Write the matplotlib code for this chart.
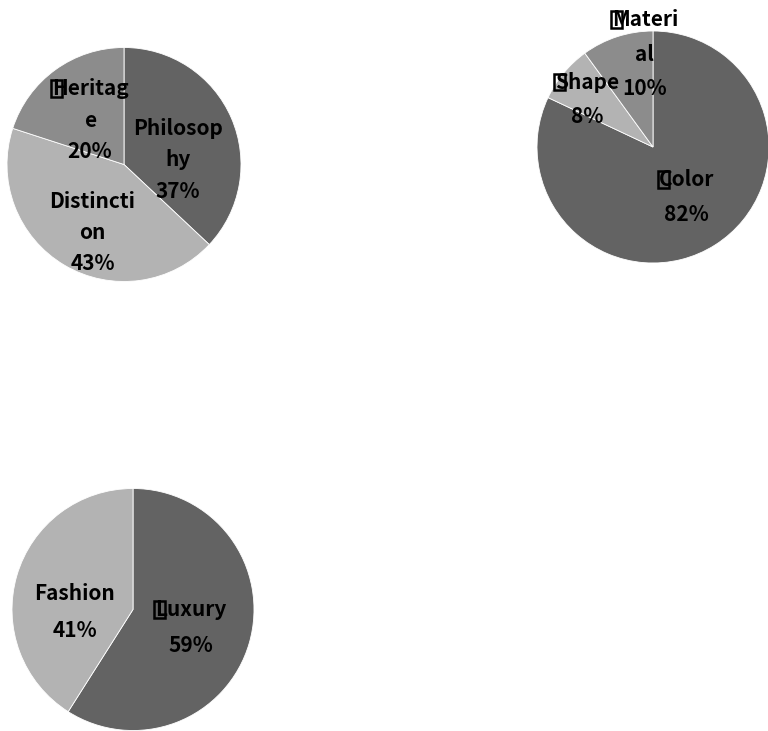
import matplotlib
matplotlib.use("Agg")
import matplotlib.pyplot as plt
from matplotlib.patches import Rectangle

plt.rcParams['font.family'] = ['Noto Sans CJK JP', 'DejaVu Sans']

# ---- data ----
pie1_labels = ["Philosop\nhy", "Distincti\non", "Heritag\ne"]
pie1_values = [37, 43, 20]
pie2_labels = ["Color", "Shape", "Materi\nal"]
pie2_values = [82, 8, 10]
pie3_labels = ["Luxury", "Fashion"]
pie3_values = [59, 41]

DARK, LIGHT, MID = "#636363", "#b3b3b3", "#8c8c8c"

W, H = 768, 731
fig = plt.figure(figsize=(W / 100, H / 100), dpi=100)
fig.patch.set_facecolor("white")

# per pie: (center x px, center y px, radius px, colors, label positions, tofu flags, linespacing)
specs = [
    (124, 164.5, 117, pie1_labels, pie1_values, [DARK, LIGHT, MID],
     [(0.46, 0.04), (-0.27, -0.58), (-0.29, 0.38)], [False, False, True], 1.6),
    (653, 147, 116, pie2_labels, pie2_values, [DARK, LIGHT, MID],
     [(0.29, -0.43), (-0.57, 0.41), (-0.07, 0.80)], [True, True, True], 1.8),
    (133, 609.5, 121, pie3_labels, pie3_values, [DARK, LIGHT],
     [(0.48, -0.15), (-0.48, -0.02)], [True, False], 1.9),
]

FS = 15
boxes = []
for cx, cy, r, labels, values, colors, pos, tofu, ls in specs:
    ax = fig.add_axes([(cx - r) / W, (H - cy - r) / H, 2 * r / W, 2 * r / H])
    ax.pie(values, colors=colors, startangle=90, counterclock=False, radius=1,
           wedgeprops=dict(edgecolor="white", linewidth=0.6))
    ax.set_xlim(-1, 1)
    ax.set_ylim(-1, 1)
    ax.set_aspect("auto")
    ax.axis("off")
    total = sum(values)
    for lab, v, (x, y), tf in zip(labels, values, pos, tofu):
        s = f"{lab}\n{round(100 * v / total)}%"
        t = ax.text(x, y, s, ha="center", va="center", fontsize=FS,
                    fontweight="bold", color="black", linespacing=ls,
                    multialignment="center")
        if tf:
            boxes.append((ax, x, y, t, lab.split("\n")[0]))

fig.canvas.draw()
renderer = fig.canvas.get_renderer()
for ax, x, y, t, first in boxes:
    bb = t.get_window_extent(renderer)
    tmp = ax.text(x, y, first, ha="center", va="center", fontsize=FS,
                  fontweight="bold")
    b1 = tmp.get_window_extent(renderer)
    tmp.remove()
    left = (bb.x0 + bb.x1) / 2 - b1.width / 2 - 1
    fs_px = FS * 100 / 72
    top = bb.y1 - 0.10 * fs_px
    bw, bh = 0.52 * fs_px, 0.80 * fs_px
    rect = Rectangle((left / W, (top - bh) / H), bw / W, bh / H,
                     transform=fig.transFigure, fill=False,
                     edgecolor="black", linewidth=1.8)
    fig.add_artist(rect)

fig.savefig("out.png", dpi=100, facecolor="white")
